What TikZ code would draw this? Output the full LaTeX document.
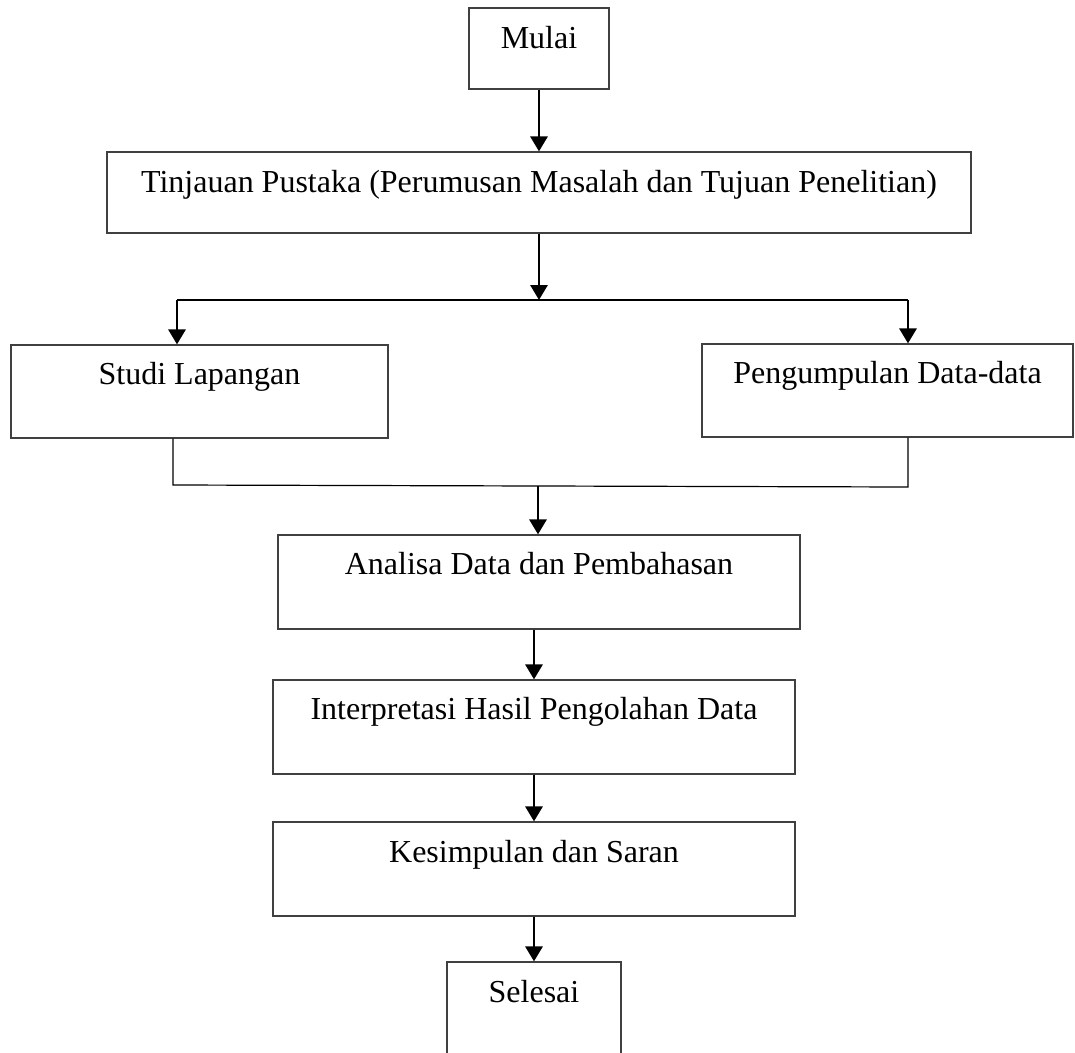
\documentclass[tikz,border=0pt]{standalone}
\usepackage{fontspec}
\setmainfont{Liberation Serif}
\usetikzlibrary{arrows.meta}
\begin{document}
\begin{tikzpicture}[x=0.375pt,y=-0.375pt,
  box/.style={draw=black!75, line width=0.45pt, rectangle, inner sep=0pt,
    font=\fontsize{12}{14}\selectfont, text height=0pt},
  arr/.style={line width=1pt, -{Triangle[length=5.6pt,width=6.4pt]}},
  thinline/.style={line width=0.45pt}]
\useasboundingbox (0,0) rectangle (1075,1053);
\clip (0,0) rectangle (1075,1053);
\node[box, minimum width=52.5pt, minimum height=30.375pt, text depth=0.375pt] (mulai) at (539,48.5) {Mulai};
\node[box, minimum width=324pt, minimum height=30.375pt, text depth=0.375pt] (tinj) at (539,192.5) {Tinjauan Pustaka (Perumusan Masalah dan Tujuan Penelitian)};
\node[box, minimum width=141.375pt, minimum height=34.875pt, text depth=5.625pt] (studi) at (199.5,391.5) {Studi Lapangan};
\node[box, minimum width=139.125pt, minimum height=34.875pt, text depth=5.625pt] (peng) at (887.5,390.5) {Pengumpulan Data-data};
\node[box, minimum width=195.75pt, minimum height=35.25pt, text depth=6pt] (ana) at (539,582) {Analisa Data dan Pembahasan};
\node[box, minimum width=195.75pt, minimum height=35.25pt, text depth=6pt] (interp) at (534,727) {Interpretasi Hasil Pengolahan Data};
\node[box, minimum width=195.75pt, minimum height=35.25pt, text depth=5.25pt] (kes) at (534,869) {Kesimpulan dan Saran};
\node[box, minimum width=65.25pt, minimum height=35.25pt, text depth=5.25pt] (sel) at (534,1009) {Selesai};
\coordinate (split) at (539,300);
\coordinate (sL) at (177,300);
\coordinate (sR) at (908,300);
\coordinate (mL) at (173,485);
\coordinate (mR) at (908,487);
\coordinate (m) at (538,486);
\draw[arr] (mulai) -- (tinj);
\draw[arr] (tinj.south) -- (split);
\draw[thinline] (sL) -- (sR);
\draw[arr] (sL) -- (sL |- studi.north);
\draw[arr] (sR) -- (sR |- peng.north);
\draw[thinline] (studi.south -| mL) -- (mL) -- (mR) -- (peng.south -| mR);
\draw[arr] (m) -- (m |- ana.north);
\draw[arr] (ana.south -| interp.north) -- (interp.north);
\draw[arr] (interp) -- (kes);
\draw[arr] (kes) -- (sel);
\end{tikzpicture}
\end{document}
